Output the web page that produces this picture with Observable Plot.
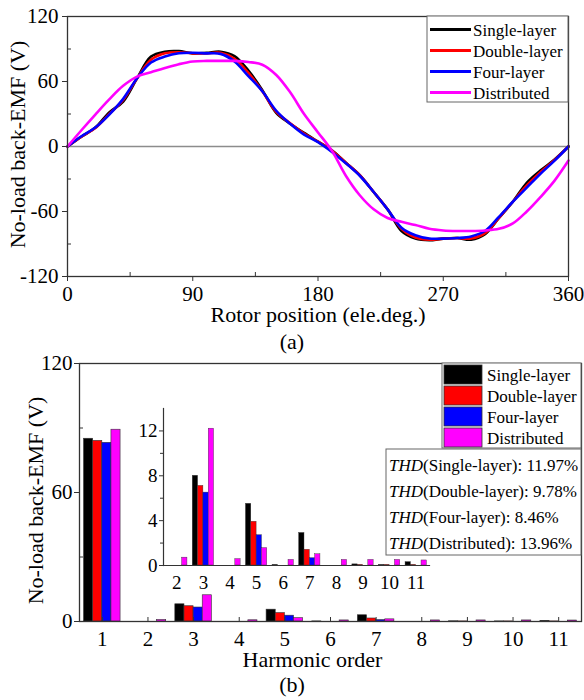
<!DOCTYPE html>
<html>
<head>
<meta charset="utf-8">
<script src="https://cdn.jsdelivr.net/npm/d3@7"></script>
<script src="https://cdn.jsdelivr.net/npm/@observablehq/plot@0.6"></script>
<style>
  body { margin: 0; background: #fff; }
  #fig { position: relative; width: 584px; height: 700px; overflow: hidden; background: #fff;
         font-family: 'Liberation Serif', 'Times New Roman', serif; }
  #fig svg { position: absolute; }
  #fig svg text { font-family: 'Liberation Serif', 'Times New Roman', serif; }
</style>
</head>
<body>
<div id="fig"></div>
<script>
// ---- series shared by both panels ----
const seriesNames = ["Single-layer", "Double-layer", "Four-layer", "Distributed"];
const seriesColors = ["#000000", "#ff0000", "#0000ff", "#ff00ff"];

// ---- (a) no-load back-EMF waveforms, V vs electrical degrees ----
const angles = [0, 10, 20, 30, 40, 50, 60, 70, 80, 90, 100, 110, 120, 130, 140, 150, 160, 170, 180,
  190, 200, 210, 220, 230, 240, 250, 260, 270, 280, 290, 300, 310, 320, 330, 340, 350, 360];
const emfSingle = [0, 9, 17.5, 31.5, 41.5, 63, 83, 87.5, 88, 86, 86.5, 87.5, 83.5, 70, 52, 31, 21, 12.5, 4.5,
  -3.5, -15, -26.5, -42, -58, -78, -85, -86.5, -85, -84.5, -86, -81, -66, -51, -33.5, -22, -12, 0];
const emfDouble = [0, 9, 17, 30, 43, 63, 80, 86, 87, 86, 86, 86.5, 81, 68, 51, 32, 21.5, 12, 4.5,
  -4, -15, -26.5, -42, -58, -76, -84, -86, -85, -84.5, -85, -80, -66, -51, -36, -23.5, -12.5, 0];
const emfFour = [0, 9.5, 17.5, 29.5, 44, 63, 77.5, 83, 86, 86.5, 86, 85.5, 78.5, 65, 51, 33, 21, 11, 4,
  -5, -15.5, -27, -42, -58, -75, -82, -85, -85, -84.5, -83, -78, -65, -51, -38, -25, -13, 0];
const emfDistributed = [0, 15, 29.5, 43.5, 56, 64.5, 68.5, 72.5, 76, 78.5, 79, 79, 79, 78, 75.5, 66, 50, 30, 13,
  -4, -27, -45, -58, -66, -69.5, -72.5, -76, -77.5, -78, -78, -77.5, -76, -71, -60, -46.5, -31.5, -13];
const emfSeries = [emfSingle, emfDouble, emfFour, emfDistributed];

const xTicksA = [0, 90, 180, 270, 360];
const xMinorA = [45, 135, 225, 315];
const yTicksA = [-120, -60, 0, 60, 120];
const yMinorA = [-90, -30, 30, 90];

// ---- (b) harmonic amplitudes, V ----
const harmonics = [1, 2, 3, 4, 5, 6, 7, 8, 9, 10, 11];
const harmSingle = [85.0, 0, 8.0, 0, 5.5, 0.05, 2.9, 0, 0.1, 0.05, 0.3];
const harmDouble = [84.0, 0, 7.1, 0, 3.9, 0, 1.4, 0, 0.05, 0.05, 0.05];
const harmFour = [83.1, 0, 6.5, 0, 2.7, 0, 0.65, 0, 0, 0, 0];
const harmDistributed = [89.2, 0.7, 12.2, 0.57, 1.55, 0.5, 1.0, 0.5, 0.5, 0.5, 0.45];
const harmSeries = [harmSingle, harmDouble, harmFour, harmDistributed];
const thdValues = [11.97, 9.78, 8.46, 13.96];

const yTicksB = [0, 60, 120];
const yMinorB = [30, 90];
const insetHarmonics = [2, 3, 4, 5, 6, 7, 8, 9, 10, 11];
const yTicksInset = [0, 4, 8, 12];
const yMinorInset = [2, 6, 10];

// ---- shared styling ----
const SERIF = "'Liberation Serif', 'Times New Roman', serif";
const AXIS = "#333";
const color = {domain: seriesNames, range: seriesColors};
const fmt = d => `${d}`;
const baseStyle = () => ({fontFamily: SERIF, fontSize: "21px", color: "#000", background: "transparent", overflow: "visible"});
const title = (label, options) =>
  Plot.text([label], {text: d => d, textAnchor: "middle", lineAnchor: "middle", fontSize: 22, ...options});

const fig = document.getElementById("fig");

// ---- panel (a) ----
const emfRows = seriesNames.flatMap((name, i) =>
  angles.map((a, j) => ({series: name, angle: a, emf: emfSeries[i][j]})));

const panelA = Plot.plot({
  width: 584, height: 330,
  marginLeft: 67, marginRight: 16, marginTop: 16, marginBottom: 54,
  style: baseStyle(),
  x: {domain: [0, 360]},
  y: {domain: [-120, 120]},
  color,
  marks: [
    Plot.ruleY([0], {stroke: "#8c8c8c", strokeWidth: 1.5}),
    Plot.line(emfRows, {x: "angle", y: "emf", z: "series", stroke: "series",
      strokeWidth: 2.6, curve: "catmull-rom"}),
    Plot.frame({stroke: AXIS, strokeWidth: 1.3}),
    Plot.axisX(xTicksA, {tickSize: 5, tickPadding: 5, fontSize: 21, tickFormat: fmt, label: null, stroke: AXIS}),
    Plot.axisX(xMinorA, {tickSize: -4, fill: "none", label: null, stroke: AXIS}),
    Plot.axisY(yTicksA, {tickSize: 5, tickPadding: 4, fontSize: 21, tickFormat: fmt, label: null, stroke: AXIS}),
    Plot.axisY(yMinorA, {tickSize: -4, fill: "none", label: null, stroke: AXIS}),
    title("Rotor position (ele.deg.)", {frameAnchor: "bottom", dy: 38}),
    title("No-load back-EMF (V)", {frameAnchor: "left", dx: -50, dy: -2, rotate: -90})
  ]
});
panelA.style.left = "0px";
panelA.style.top = "0px";
fig.appendChild(panelA);

// ---- panel (b) ----
const barRows = seriesNames.flatMap((name, k) =>
  harmonics.map((h, j) => ({series: name, k, h, v: harmSeries[k][j]})));
const slot = 0.2; // share of one harmonic's width given to each bar
const barX1 = d => d.h - 2 * slot + d.k * slot;
const barX2 = d => d.h - 2 * slot + (d.k + 1) * slot;

const panelB = Plot.plot({
  width: 584, height: 360,
  marginLeft: 79, marginRight: 3, marginTop: 23, marginBottom: 79,
  style: baseStyle(),
  x: {domain: [0.5, 11.5]},
  y: {domain: [0, 120]},
  color,
  marks: [
    Plot.rectY(barRows, {x1: barX1, x2: barX2, y: "v", fill: "series", stroke: "#333", strokeWidth: 0.6}),
    Plot.frame({stroke: AXIS, strokeWidth: 1.3}),
    Plot.axisX(harmonics, {tickSize: -4, fill: "none", label: null, stroke: AXIS}),
    Plot.axisX(harmonics, {tickSize: 0, tickPadding: 10, fontSize: 21, tickFormat: fmt, label: null}),
    Plot.axisY(yTicksB, {tickSize: 5, tickPadding: 2, fontSize: 21, tickFormat: fmt, label: null, stroke: AXIS}),
    Plot.axisY(yMinorB, {tickSize: -4, fill: "none", label: null, stroke: AXIS}),
    title("Harmonic order", {frameAnchor: "bottom", dx: -18, dy: 38}),
    title("No-load back-EMF (V)", {frameAnchor: "left", dx: -44, dy: 8, rotate: -90})
  ]
});
panelB.style.left = "0px";
panelB.style.top = "340px";
fig.appendChild(panelB);

// ---- inset: zoom on harmonics 2-11 ----
const insetRows = barRows.filter(d => d.h >= 2);
const inset = Plot.plot({
  width: 320, height: 200,
  marginLeft: 43, marginRight: 11, marginTop: 13, marginBottom: 30,
  style: {...baseStyle(), fontSize: "19px"},
  x: {domain: [1.5, 11.5]},
  y: {domain: [0, 14]},
  color,
  marks: [
    Plot.rectY(insetRows, {x1: barX1, x2: barX2, y: "v", fill: "series", stroke: "#333", strokeWidth: 0.4}),
    Plot.frame({anchor: "left", stroke: AXIS, strokeWidth: 1.2}),
    Plot.frame({anchor: "bottom", stroke: AXIS, strokeWidth: 1.2}),
    Plot.axisX(insetHarmonics, {tickSize: 0, tickPadding: 10, fontSize: 19, tickFormat: fmt, label: null}),
    Plot.axisY(yTicksInset, {tickSize: 4, tickPadding: 2, fontSize: 19, tickFormat: fmt, label: null, stroke: AXIS}),
    Plot.axisY(yMinorInset, {tickSize: 3, fill: "none", label: null, stroke: AXIS})
  ]
});
inset.style.left = "120px";
inset.style.top = "395px";
fig.appendChild(inset);

// ---- legends, THD box and captions ----
const over = d3.create("svg")
  .attr("width", 584).attr("height", 700)
  .style("left", "0px").style("top", "0px")
  .attr("font-family", SERIF);

// legend of (a): line samples
const legA = over.append("g");
legA.append("rect").attr("x", 427).attr("y", 16).attr("width", 141).attr("height", 86)
  .attr("fill", "#fff").attr("stroke", "#666").attr("stroke-width", 1);
seriesNames.forEach((name, i) => {
  const cy = 29.5 + i * 21;
  legA.append("line").attr("x1", 430).attr("x2", 471).attr("y1", cy).attr("y2", cy)
    .attr("stroke", seriesColors[i]).attr("stroke-width", 2.8);
  legA.append("text").attr("x", 473).attr("y", cy + 6).attr("font-size", 17).text(name);
});

// legend of (b): filled swatches
const legB = over.append("g");
legB.append("rect").attr("x", 442).attr("y", 363).attr("width", 139).attr("height", 85)
  .attr("fill", "#fff").attr("stroke", "#666").attr("stroke-width", 1);
seriesNames.forEach((name, i) => {
  const y0 = 365 + i * 21;
  legB.append("rect").attr("x", 444).attr("y", y0).attr("width", 38).attr("height", 19)
    .attr("fill", seriesColors[i]).attr("stroke", "#333").attr("stroke-width", 0.8);
  legB.append("text").attr("x", 487).attr("y", y0 + 15.5).attr("font-size", 17).text(name);
});

// THD summary
const thd = over.append("g");
thd.append("rect").attr("x", 386).attr("y", 449).attr("width", 195).attr("height", 106)
  .attr("fill", "#fff").attr("stroke", "#666").attr("stroke-width", 1);
seriesNames.forEach((name, i) => {
  const t = thd.append("text").attr("x", 389).attr("y", 471 + i * 26).attr("font-size", 17);
  t.append("tspan").attr("font-style", "italic").text("THD");
  t.append("tspan").text(`(${name}): ${thdValues[i].toFixed(2)}%`);
});

// panel captions
over.append("text").attr("x", 292).attr("y", 349).attr("text-anchor", "middle").attr("font-size", 22).text("(a)");
over.append("text").attr("x", 292).attr("y", 692).attr("text-anchor", "middle").attr("font-size", 22).text("(b)");

fig.appendChild(over.node());
</script>
</body>
</html>
